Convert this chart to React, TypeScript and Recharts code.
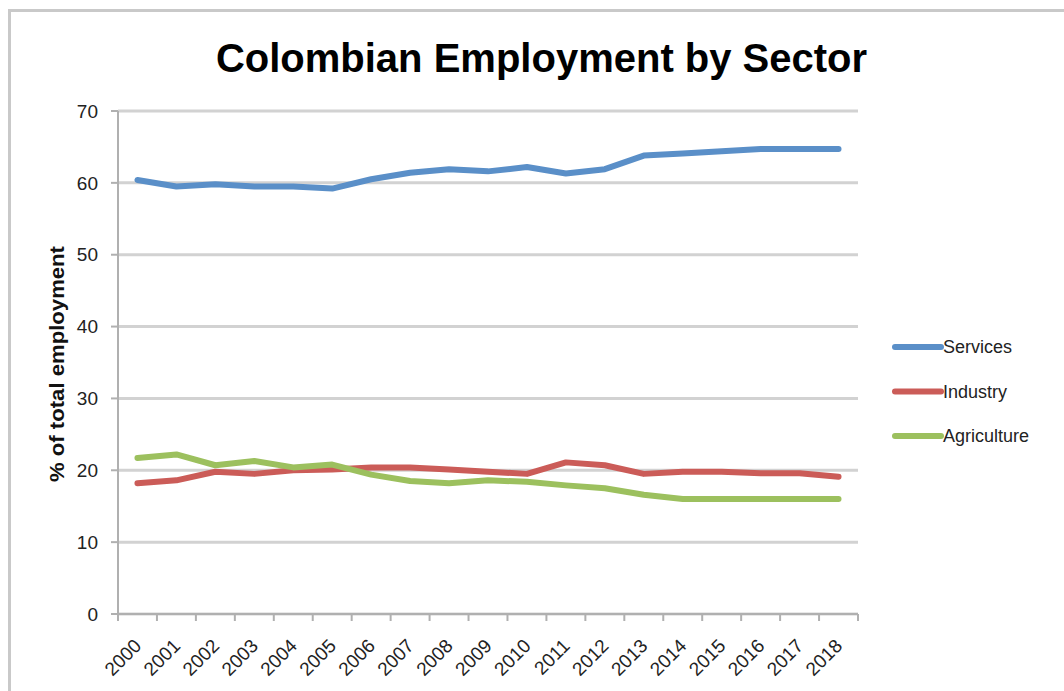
import React from 'react'
import { LineChart, Line, XAxis, YAxis, CartesianGrid } from 'recharts'

const years = [
  '2000', '2001', '2002', '2003', '2004', '2005', '2006', '2007', '2008', '2009',
  '2010', '2011', '2012', '2013', '2014', '2015', '2016', '2017', '2018'
]
const services = [60.4, 59.5, 59.8, 59.5, 59.5, 59.2, 60.5, 61.4, 61.9, 61.6, 62.2, 61.3, 61.9, 63.8, 64.1, 64.4, 64.7, 64.7, 64.7]
const industry = [18.2, 18.6, 19.8, 19.5, 20.0, 20.1, 20.4, 20.4, 20.1, 19.8, 19.5, 21.1, 20.7, 19.5, 19.8, 19.8, 19.6, 19.6, 19.1]
const agriculture = [21.7, 22.2, 20.7, 21.3, 20.4, 20.8, 19.4, 18.5, 18.2, 18.6, 18.4, 17.9, 17.5, 16.6, 16.0, 16.0, 16.0, 16.0, 16.0]
const yTicks = [0, 10, 20, 30, 40, 50, 60, 70]

const series = [
  { key: 'services', name: 'Services', color: '#5a8fc8' },
  { key: 'industry', name: 'Industry', color: '#cb5c58' },
  { key: 'agriculture', name: 'Agriculture', color: '#9cc05e' }
]

const data = years.map((year, i) => ({
  year,
  services: services[i],
  industry: industry[i],
  agriculture: agriculture[i]
}))

const W = 1064
const H = 691
const PLOT_LEFT = 118
const PLOT_RIGHT = 858
const BAND = (PLOT_RIGHT - PLOT_LEFT) / years.length
const FONT = "'Liberation Sans', Arial, sans-serif"

// Excel puts category ticks between categories, labels rotated 45°
const XTick = ({ x, y, payload }: any) => (
  <g>
    <line x1={x - BAND / 2} y1={y - 8} x2={x - BAND / 2} y2={y - 1} stroke="#b0b0b0" strokeWidth={2} />
    {payload.index === years.length - 1 && (
      <line x1={x + BAND / 2} y1={y - 8} x2={x + BAND / 2} y2={y - 1} stroke="#b0b0b0" strokeWidth={2} />
    )}
    <text
      x={x + 5}
      y={y + 25}
      textAnchor="end"
      transform={`rotate(-45 ${x + 5} ${y + 25})`}
      fontSize={19}
      fontFamily={FONT}
      fill="#222"
    >
      {payload.value}
    </text>
  </g>
)

const YLabel = () => (
  <text
    x={64}
    y={364}
    transform="rotate(-90 64 364)"
    textAnchor="middle"
    fontSize={20}
    fontWeight="bold"
    fontFamily={FONT}
    textLength={236}
    lengthAdjust="spacingAndGlyphs"
    fill="#111"
  >
    % of total employment
  </text>
)

const LegendBox = () => (
  <svg width={170} height={130}>
    {series.map((s, i) => (
      <g key={s.key}>
        <line x1={7} y1={17 + i * 44.5} x2={53} y2={17 + i * 44.5} stroke={s.color} strokeWidth={6} strokeLinecap="round" />
        <text x={55} y={23 + i * 44.5} fontSize={18} fontFamily={FONT} fill="#222">
          {s.name}
        </text>
      </g>
    ))}
  </svg>
)

export default function App() {
  return (
    <div style={{ position: 'absolute', left: 0, top: 0, width: W, height: H, overflow: 'hidden', background: '#fff' }}>
      <div
        style={{
          position: 'absolute',
          left: 8,
          top: 9,
          width: 1200,
          height: 800,
          border: '3px solid #c9c9c9'
        }}
      />
      <div
        style={{
          position: 'absolute',
          left: 0,
          top: 38,
          width: 1083,
          textAlign: 'center',
          fontFamily: FONT,
          fontWeight: 'bold',
          fontSize: 40,
          lineHeight: '40px',
          color: '#000'
        }}
      >
        Colombian Employment by Sector
      </div>
      <div style={{ position: 'absolute', left: 0, top: 0 }}>
        <LineChart width={W} height={H} data={data} margin={{ top: 111, right: W - PLOT_RIGHT, bottom: 17, left: PLOT_LEFT - 60 }}>
          <CartesianGrid vertical={false} stroke="#d2d2d2" strokeWidth={3} />
          <XAxis
            dataKey="year"
            height={60}
            interval={0}
            padding={{ left: BAND / 2, right: BAND / 2 }}
            tickLine={false}
            axisLine={{ stroke: '#b0b0b0', strokeWidth: 2 }}
            tick={<XTick />}
          />
          <YAxis
            width={60}
            domain={[0, 70]}
            ticks={yTicks}
            interval={0}
            tickSize={7}
            tickMargin={13}
            axisLine={{ stroke: '#b0b0b0', strokeWidth: 2 }}
            tickLine={{ stroke: '#b0b0b0', strokeWidth: 2 }}
            tick={{ fontSize: 19, fill: '#222', fontFamily: FONT }}
            label={<YLabel />}
          />
          {series.map((s) => (
            <Line
              key={s.key}
              type="linear"
              dataKey={s.key}
              name={s.name}
              stroke={s.color}
              strokeWidth={6}
              strokeLinecap="round"
              strokeLinejoin="round"
              dot={false}
              activeDot={false}
              isAnimationActive={false}
            />
          ))}
        </LineChart>
      </div>
      <div style={{ position: 'absolute', left: 888, top: 330 }}>
        <LegendBox />
      </div>
    </div>
  )
}
